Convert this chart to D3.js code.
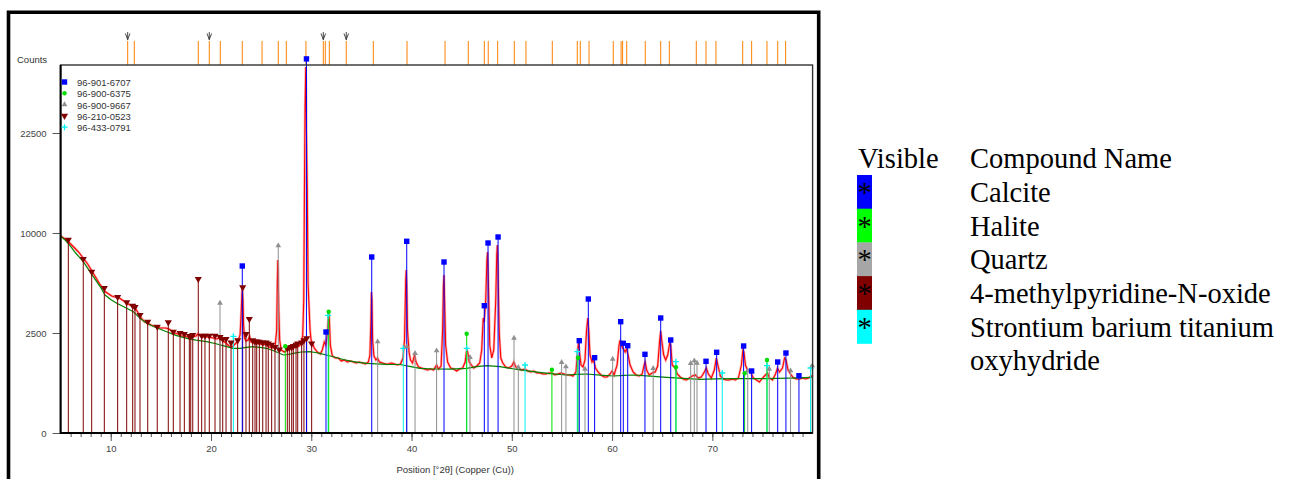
<!DOCTYPE html>
<html>
<head>
<meta charset="utf-8">
<script src="https://cdn.jsdelivr.net/npm/d3@7"></script>
<style>
    body { margin: 0; background: #fff; }
    svg { display: block; }
    .axis text { font-family: 'Liberation Sans', Arial, sans-serif; font-size: 9.5px; fill: #444; }
    .axis line { stroke: #555; }
    .small { font-family: 'Liberation Sans', Arial, sans-serif; font-size: 9.5px; fill: #333; }
    .serif { font-family: 'Liberation Serif', 'Times New Roman', serif; font-size: 28.5px; fill: #000; }
</style>
</head>
<body>
<svg id="chart" width="1293" height="479"></svg>
<script>
// measured scan, [position 2theta, counts]
const observed = [
    [5.0, 9702], [5.3, 9506], [5.6, 9312], [5.9, 9025], [6.2, 8742], [6.5, 8464], [6.8, 8190], [7.1, 7832],
    [7.4, 7482], [7.7, 7140], [8.0, 6724], [8.3, 6320], [8.6, 5929], [8.9, 5550], [9.2, 5256], [9.5, 4970],
    [9.8, 4830], [10.1, 4692], [10.4, 4624], [10.7, 4624], [11.0, 4489], [11.3, 4356], [11.6, 4225], [11.9, 4096],
    [12.2, 4032], [12.5, 3844], [12.8, 3540], [13.1, 3249], [13.4, 3080], [13.7, 3025], [14.0, 2916], [14.3, 2862],
    [14.6, 2809], [14.9, 2756], [15.2, 2756], [15.5, 2756], [15.8, 2704], [16.1, 2601], [16.4, 2500], [16.7, 2450],
    [17.0, 2352], [17.3, 2352], [17.6, 2304], [17.9, 2352], [18.2, 2304], [18.5, 2352], [18.7, 2450], [19.0, 2352],
    [19.4, 2304], [19.8, 2304], [20.2, 2256], [20.6, 2209], [20.9, 2304], [21.2, 2116], [21.5, 2025], [21.8, 1892],
    [22.1, 1849], [22.4, 1980], [22.7, 2116], [22.9, 2401], [23.0, 3481], [23.08, 4761], [23.12, 5184], [23.18, 4422],
    [23.25, 2916], [23.35, 2256], [23.5, 2116], [23.7, 2162], [23.85, 2352], [24.0, 2070], [24.3, 2025], [24.6, 2025],
    [24.9, 1980], [25.2, 1936], [25.5, 1980], [25.8, 1849], [26.1, 1806], [26.4, 1892], [26.55, 2652], [26.62, 5852],
    [26.66, 7482], [26.7, 6642], [26.76, 3782], [26.85, 2162], [27.0, 1722], [27.3, 1640], [27.6, 1722], [27.9, 1764],
    [28.2, 1806], [28.5, 1849], [28.8, 1892], [29.0, 2025], [29.15, 2401], [29.25, 4422], [29.32, 14762], [29.38, 26082],
    [29.45, 33500], [29.5, 26082], [29.55, 19044], [29.6, 14762], [29.68, 5625], [29.78, 3969], [29.88, 2652], [29.98, 2162],
    [30.1, 2025], [30.3, 1806], [30.6, 1640], [30.9, 1560], [31.1, 1722], [31.3, 2070], [31.45, 1936], [31.6, 2401],
    [31.72, 3600], [31.8, 3306], [31.9, 1936], [32.1, 1482], [32.4, 1406], [32.7, 1406], [33.0, 1296], [33.3, 1332],
    [33.6, 1260], [33.9, 1296], [34.2, 1260], [34.5, 1225], [34.8, 1260], [35.1, 1225], [35.4, 1190], [35.7, 1260],
    [35.85, 1521], [35.95, 3192], [36.0, 4970], [36.05, 4422], [36.12, 2162], [36.25, 1482], [36.45, 1332], [36.6, 1406],
    [36.8, 1260], [37.1, 1225], [37.4, 1190], [37.7, 1190], [38.0, 1225], [38.3, 1190], [38.6, 1156], [38.9, 1190],
    [39.15, 1406], [39.3, 2162], [39.42, 5852], [39.47, 6642], [39.52, 5476], [39.6, 2652], [39.75, 1640], [39.9, 1332],
    [40.1, 1225], [40.3, 1521], [40.45, 1260], [40.7, 1089], [41.0, 1056], [41.3, 1024], [41.6, 992], [41.9, 1024],
    [42.2, 992], [42.5, 1156], [42.7, 1024], [42.95, 1122], [43.1, 2652], [43.18, 5476], [43.24, 6241], [43.3, 4422],
    [43.4, 1936], [43.6, 1260], [43.9, 1056], [44.2, 1024], [44.5, 961], [44.8, 1024], [45.1, 1056], [45.35, 1260],
    [45.5, 1722], [45.6, 1640], [45.75, 1260], [45.9, 1190], [46.2, 1056], [46.5, 1122], [46.8, 1225], [47.0, 1722],
    [47.15, 3306], [47.25, 3080], [47.4, 4422], [47.52, 7482], [47.58, 8190], [47.65, 6241], [47.8, 1936], [48.0, 1406],
    [48.2, 1722], [48.4, 4422], [48.5, 7921], [48.56, 8836], [48.62, 7056], [48.75, 2500], [48.9, 1406], [49.1, 1225],
    [49.4, 1089], [49.7, 1056], [50.0, 1122], [50.2, 1260], [50.4, 1089], [50.7, 1024], [51.0, 992], [51.3, 1024],
    [51.6, 961], [51.9, 930], [52.2, 961], [52.5, 900], [52.8, 900], [53.1, 870], [53.4, 870], [53.7, 900],
    [54.0, 900], [54.3, 841], [54.6, 870], [54.9, 900], [55.2, 870], [55.5, 841], [55.8, 841], [56.1, 812],
    [56.4, 930], [56.55, 1640], [56.65, 2025], [56.75, 1640], [56.9, 1156], [57.1, 1089], [57.3, 1332], [57.45, 2601],
    [57.58, 3306], [57.68, 2652], [57.8, 1521], [58.0, 1260], [58.15, 1332], [58.35, 1056], [58.6, 930], [58.9, 841],
    [59.2, 784], [59.5, 784], [59.8, 870], [60.0, 961], [60.2, 841], [60.5, 1156], [60.7, 1936], [60.8, 2162],
    [60.9, 1980], [61.05, 1806], [61.15, 1764], [61.3, 1640], [61.45, 1764], [61.6, 1521], [61.8, 1156], [62.1, 930],
    [62.4, 841], [62.7, 812], [63.0, 870], [63.2, 1156], [63.3, 1260], [63.45, 992], [63.7, 841], [64.0, 900],
    [64.3, 930], [64.55, 1122], [64.75, 2162], [64.85, 2601], [64.95, 2162], [65.15, 1521], [65.35, 1332], [65.55, 1521],
    [65.75, 2025], [65.85, 1936], [66.0, 1156], [66.3, 1056], [66.5, 870], [66.8, 784], [67.1, 729], [67.4, 702],
    [67.7, 756], [68.0, 812], [68.3, 841], [68.6, 756], [68.9, 784], [69.2, 930], [69.4, 1056], [69.6, 870],
    [69.9, 756], [70.2, 992], [70.4, 1406], [70.55, 1156], [70.8, 812], [71.1, 729], [71.4, 702], [71.7, 702],
    [72.0, 729], [72.3, 702], [72.6, 756], [72.9, 1156], [73.05, 1722], [73.15, 1640], [73.3, 1156], [73.5, 992],
    [73.8, 930], [74.1, 756], [74.4, 702], [74.7, 650], [75.0, 756], [75.3, 841], [75.5, 900], [75.7, 756],
    [76.0, 702], [76.3, 870], [76.5, 1056], [76.7, 930], [77.0, 1056], [77.2, 1406], [77.35, 1332], [77.55, 992],
    [77.8, 870], [78.1, 756], [78.4, 729], [78.7, 729], [79.0, 756], [79.3, 729], [79.6, 756], [79.9, 812],
    [80.0, 784],
];

// fitted background
const background = [
    [5.0, 9700], [5.5, 9250], [6.0, 8700], [6.5, 8100], [7.26, 7336], [8.26, 6108], [9.0, 5300], [9.43, 4761],
    [10.0, 4450], [10.6, 4206], [11.4, 3950], [12.25, 3679], [12.9, 3300], [13.59, 3008], [14.5, 2780], [15.58, 2565],
    [16.5, 2380], [17.58, 2242], [18.5, 2160], [19.57, 2084], [20.5, 1990], [21.57, 1862], [22.2, 1790], [22.89, 1794],
    [23.5, 1830], [24.22, 1862], [24.9, 1830], [25.55, 1794], [26.3, 1680], [27.21, 1521], [27.7, 1540], [28.21, 1588],
    [29.0, 1640], [29.87, 1653], [30.4, 1620], [30.87, 1588], [31.5, 1520], [32.2, 1455], [33.2, 1350], [34.19, 1271],
    [35.53, 1215], [36.5, 1195], [37.52, 1180], [38.85, 1173], [39.8, 1110], [40.84, 1047], [42.17, 1024], [43.8, 1020],
    [45.5, 1047], [46.5, 1100], [47.5, 1132], [48.82, 1099], [50.5, 1010], [52.14, 940], [53.8, 880], [55.47, 841],
    [56.5, 860], [57.47, 870], [58.8, 835], [60.12, 812], [61.2, 830], [62.12, 841], [63.8, 810], [65.45, 776],
    [67.1, 745], [68.78, 721], [70.4, 730], [72.09, 737], [73.8, 740], [75.42, 737], [77.7, 755], [80.0, 776],
];

// reference sticks per phase, [position, scaled counts]
const calcite = [
    [23.12, 6889], [29.52, 34800], [31.47, 2500], [36.03, 7656], [39.52, 9092], [43.24, 7225], [47.26, 3988],
    [47.63, 8930], [48.63, 9506], [56.73, 2084], [57.63, 4422], [58.26, 1380], [60.86, 3042], [61.12, 1967],
    [61.56, 1862], [63.28, 1509], [64.85, 3249], [65.85, 2116], [69.37, 1250], [70.43, 1588], [73.12, 1849],
    [73.92, 930], [76.52, 1225], [77.34, 1560], [78.64, 792],
];
const halite = [
    [27.41, 1836], [31.74, 3618], [45.5, 2416], [54.0, 970], [56.6, 1380], [66.37, 1047], [73.22, 861], [75.45, 1296],
];
const quartz = [
    [20.9, 4160], [26.71, 8677], [36.62, 2039], [39.52, 1819], [40.35, 1548], [42.5, 1652], [45.83, 1395],
    [50.22, 2209], [50.65, 1047], [54.97, 1215], [55.4, 1066], [57.3, 992], [60.06, 1332], [64.1, 1014],
    [67.84, 1180], [68.2, 1271], [68.47, 1190], [73.53, 939], [75.68, 992], [77.8, 939], [79.97, 1099],
];
const methylpyridine = [
    [5.77, 9245], [7.26, 7482], [8.1, 6424], [9.36, 5184], [10.69, 4556], [11.59, 4206], [12.19, 3988],
    [12.42, 3900], [12.92, 3422], [13.69, 3042], [14.64, 2772], [15.74, 3009], [16.24, 2515], [16.91, 2450],
    [17.34, 2401], [17.84, 2300], [17.98, 2300], [18.18, 2352], [18.73, 5852], [19.07, 2318], [19.4, 2318],
    [19.83, 2318], [20.4, 2318], [20.9, 2250], [21.17, 2162], [21.5, 2162], [22.0, 2000], [22.66, 2100],
    [23.16, 5235], [23.49, 2400], [23.82, 3192], [24.16, 2100], [24.39, 2050], [24.56, 2050], [24.82, 2030],
    [25.16, 2000], [25.49, 2000], [25.71, 1950], [26.05, 1900], [26.38, 1800], [26.81, 1700], [27.61, 1750],
    [27.81, 1780], [28.05, 1800], [28.21, 1850], [28.48, 1900], [28.65, 1950], [29.04, 2000], [29.27, 2100],
    [29.54, 2200], [30.04, 1950],
];
const oxyhydride = [
    [22.23, 2290], [31.68, 3400], [39.18, 1751], [45.5, 1751], [51.32, 1122], [56.53, 1612], [66.37, 1236],
    [70.99, 870], [75.45, 1099], [79.8, 1024],
];

// peak list along the top
const peakList = [
    11.69, 12.35, 18.73, 19.83, 20.93, 23.12, 25.09, 26.71, 27.51, 29.47, 31.2, 31.4, 31.8, 33.49, 36.19,
    39.55, 43.34, 45.66, 47.26, 47.65, 48.59, 50.25, 51.41, 54.04, 56.53, 56.83, 57.7, 60.12, 60.9, 61.05,
    61.46, 63.31, 64.85, 65.71, 68.4, 69.37, 70.36, 73.03, 73.92, 75.45, 76.52, 77.31,
];
const peakFlags = [11.69, 19.83, 31.2, 33.49];

const refCodes = ['96-901-6707', '96-900-6375', '96-900-9667', '96-210-0523', '96-433-0791'];
const compoundNames = ['Calcite', 'Halite', 'Quartz', '4-methylpyridine-N-oxide', 'Strontium barium titanium\noxyhydride'];
const phaseColors = ['#0000ff', '#00dd00', '#8f8f8f', '#800000', '#00f0f0'];
const boxColors = ['#0000ff', '#00ff00', '#a6a6a6', '#800000', '#00ffff'];
const xTicks = [10, 20, 30, 40, 50, 60, 70];
const yTicks = [0, 2500, 10000, 22500];

const phases = [calcite, halite, quartz, methylpyridine, oxyhydride].map((sticks, i) => ({
    sticks,
    code: refCodes[i],
    name: compoundNames[i],
    color: phaseColors[i],
    box: boxColors[i],
    kind: i,
}));

const plot = { left: 60.6, right: 812.6, top: 65, bottom: 433 };
const svg = d3.select('#chart');

const x = d3.scaleLinear().domain([5, 80]).range([plot.left, plot.right]);
const y = d3.scaleSqrt().domain([0, 33856]).range([plot.bottom, plot.top]);

function marker(sel, kind, color) {
    if (kind === 0) {
        sel.append('rect').attr('x', -2.7).attr('y', -2.7).attr('width', 5.4).attr('height', 5.4).attr('fill', color);
    } else if (kind === 1) {
        sel.append('circle').attr('r', 2.2).attr('fill', color);
    } else if (kind === 2) {
        sel.append('path').attr('d', d3.symbol(d3.symbolTriangle, 14)()).attr('fill', color);
    } else if (kind === 3) {
        sel.append('path').attr('d', d3.symbol(d3.symbolTriangle, 22)())
            .attr('transform', 'rotate(180)').attr('fill', color);
    } else {
        sel.append('path').attr('d', 'M-3,0H3M0,-3V3').attr('stroke', color).attr('stroke-width', 1.3);
    }
}

// outer frame of the exported picture
svg.append('path')
    .attr('d', 'M8.5,479V12.3H818.7V479')
    .attr('fill', 'none')
    .attr('stroke', '#000')
    .attr('stroke-width', 3.6);

// top peak-list bar
svg.append('g').selectAll('line')
    .data(peakList)
    .join('line')
    .attr('x1', d => x(d)).attr('x2', d => x(d))
    .attr('y1', 41).attr('y2', plot.top)
    .attr('stroke', '#ff8000')
    .attr('stroke-width', 1);

svg.append('g').selectAll('path')
    .data(peakFlags)
    .join('path')
    .attr('d', d => `M${x(d) - 2.3},33.5L${x(d)},39.5L${x(d) + 2.3},33.5M${x(d)},32V40`)
    .attr('fill', 'none')
    .attr('stroke', '#333')
    .attr('stroke-width', 0.9);

// axes
svg.append('g')
    .attr('class', 'axis')
    .attr('transform', `translate(0,${plot.bottom})`)
    .call(d3.axisBottom(x).tickValues(d3.range(6, 80)).tickSize(4).tickFormat(''))
    .call(g => g.select('.domain').remove());

svg.append('g')
    .attr('class', 'axis')
    .attr('transform', `translate(0,${plot.bottom})`)
    .call(d3.axisBottom(x).tickValues(xTicks).tickSize(8).tickPadding(4).tickFormat(d3.format('d')))
    .call(g => g.select('.domain').remove());

svg.append('g')
    .attr('class', 'axis')
    .attr('transform', `translate(${plot.left},0)`)
    .call(d3.axisLeft(y).tickValues(yTicks).tickSize(8).tickPadding(6).tickFormat(d3.format('d')))
    .call(g => g.select('.domain').remove());

svg.append('text').attr('class', 'small').attr('x', 17).attr('y', 62.5).text('Counts');
svg.append('text').attr('class', 'small').attr('x', 396.5).attr('y', 473).text('Position [°2θ] (Copper (Cu))');

// scan and background
const line = d3.line().x(d => x(d[0])).y(d => y(d[1]));

svg.append('path').datum(observed)
    .attr('d', line).attr('fill', 'none')
    .attr('stroke', 'rgba(255,0,0,0.3)').attr('stroke-width', 2.6);
svg.append('path').datum(observed)
    .attr('d', line).attr('fill', 'none')
    .attr('stroke', '#ff0000').attr('stroke-width', 1.1);
svg.append('path').datum(background)
    .attr('d', line).attr('fill', 'none')
    .attr('stroke', '#008000').attr('stroke-width', 1.2);

// reference sticks, drawn in the same order as the phase list
phases.slice().reverse().forEach((p) => {
    svg.append('g').selectAll('line')
        .data(p.sticks)
        .join('line')
        .attr('x1', d => x(d[0])).attr('x2', d => x(d[0]))
        .attr('y1', y(0)).attr('y2', d => y(d[1]))
        .attr('stroke', p.color)
        .attr('stroke-width', 1);
});

phases.slice().reverse().forEach((p) => {
    svg.append('g').selectAll('g')
        .data(p.sticks)
        .join('g')
        .attr('transform', d => `translate(${x(d[0])},${y(d[1]) - 1})`)
        .each(function () { marker(d3.select(this), p.kind, p.color); });
});

// plot frame
svg.append('rect')
    .attr('x', plot.left).attr('y', plot.top)
    .attr('width', plot.right - plot.left).attr('height', plot.bottom - plot.top)
    .attr('fill', 'none').attr('stroke', '#333').attr('stroke-width', 1.4);
svg.append('path')
    .attr('d', `M${plot.left},${plot.top}V${plot.bottom}H${plot.right}`)
    .attr('fill', 'none').attr('stroke', '#000').attr('stroke-width', 2);

// code legend inside the plot
const codeLegend = svg.append('g').selectAll('g')
    .data(phases)
    .join('g')
    .attr('transform', (d, i) => `translate(64.5,${82 + i * 11.3})`);
codeLegend.each(function (d) { marker(d3.select(this), d.kind, d.color); });
codeLegend.append('text').attr('class', 'small').attr('x', 12.5).attr('y', 4).text(d => d.code);

// compound table on the right
svg.append('text').attr('class', 'serif').attr('x', 858).attr('y', 168).text('Visible');
svg.append('text').attr('class', 'serif').attr('x', 970).attr('y', 168).text('Compound Name');

const rowH = 33.7;
const rows = svg.append('g').selectAll('g')
    .data(phases)
    .join('g')
    .attr('transform', (d, i) => `translate(0,${202 + i * rowH})`);
rows.append('rect')
    .attr('x', 857).attr('y', -27).attr('width', 15).attr('height', 34)
    .attr('fill', d => d.box);
rows.append('text').attr('class', 'serif')
    .attr('x', 864.5).attr('text-anchor', 'middle').text('*');
rows.append('text').attr('class', 'serif')
    .attr('x', 970)
    .selectAll('tspan')
    .data(d => d.name.split('\n'))
    .join('tspan')
    .attr('x', 970)
    .attr('dy', (d, i) => (i === 0 ? 0 : rowH))
    .text(d => d);
</script>
</body>
</html>
